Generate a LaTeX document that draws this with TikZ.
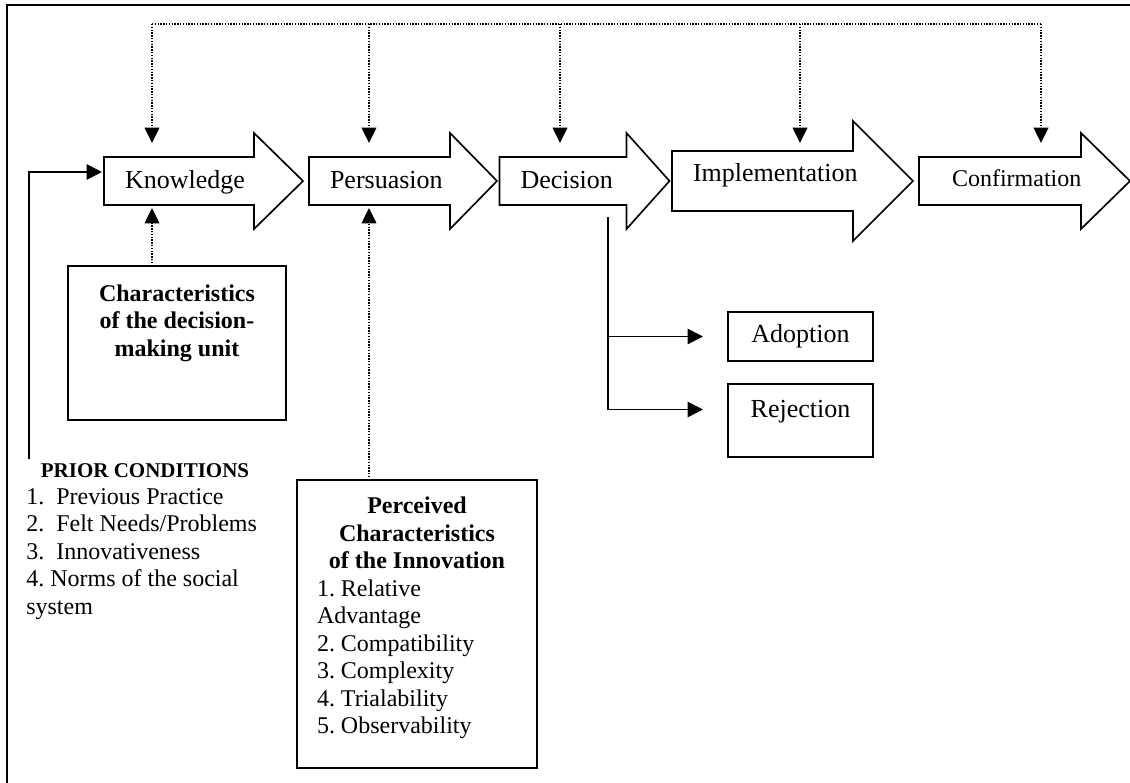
\documentclass[tikz,border=0pt]{standalone}
\usepackage{fontspec}
\setmainfont{Liberation Serif}
\usetikzlibrary{arrows.meta}
\frenchspacing
\newdimen\unitpx \unitpx=0.75pt
\newcommand{\stagefont}{\fontsize{19.5}{22}\selectfont}
\newcommand{\boxfont}{\fontsize{18}{20.6}\selectfont}
\newcommand{\stagehead}[4]{\draw[stageline] (#1.north west) -- (#1.north east) -- ++(0,-#2) -- ++(#4,#3) -- ++(-#4,#3) -- (#1.south east) -- (#1.south west) -- cycle;}
\tikzset{
  stage/.style={inner ysep=0pt, inner xsep=21\unitpx, outer sep=0pt, align=left, font=\stagefont,
    text height=14.5pt, text depth=4pt, minimum height=48\unitpx},
  stageline/.style={line width=1.25pt},
  infobox/.style={draw, line width=1.5pt, inner sep=0pt, outer sep=0pt, font=\boxfont},
  outcome/.style={draw, line width=1.25pt, inner sep=0pt, outer sep=0pt, font=\stagefont,
    minimum width=145\unitpx, minimum height=49\unitpx},
  flow/.style={line width=1.25pt, -{Triangle[length=11.5pt,width=11.5pt]}},
  feedback/.style={line width=1.1pt, densely dotted},
  fb/.style={feedback, -{Triangle[length=11.5pt,width=11pt]}}
}

\begin{document}
\begin{tikzpicture}[x=0.75pt,y=-0.75pt]
  \useasboundingbox (0,0) rectangle (1130,782);
  \draw[line width=1.6pt] (7,790) |- (1140,5);

  \node[stage, text width=108\unitpx] (know) at (179,181) {Knowledge};
  \node[stage, text width=99\unitpx] (pers) at (379.5,181) {Persuasion};
  \node[stage, text width=85\unitpx] (deci) at (563,181) {Decision};
  \node[stage, text width=139\unitpx, minimum height=60\unitpx, text depth=13.5pt] (impl) at (762.5,181) {Implementation};
  \node[stage, inner xsep=33\unitpx, text width=96\unitpx, font=\boxfont, text height=13pt, text depth=5.5pt] (conf) at (1000,181) {Confirmation};
  \stagehead{know}{24}{48}{49}
  \stagehead{pers}{24}{48}{47}
  \stagehead{deci}{24}{48}{43}
  \stagehead{impl}{30}{60}{60}
  \stagehead{conf}{24}{48}{49}

  \node[infobox] (dmu) at (177,343) {\parbox[c][154\unitpx][t]{218\unitpx}{\centering\bfseries\vspace*{14pt}Characteristics\\of the decision-\\making unit}};
  \node[infobox, inner xsep=20\unitpx] (perc) at (417,624) {\parbox[c][288\unitpx][t]{200\unitpx}{\vspace*{13pt}{\centering\bfseries Perceived\\Characteristics\\of the Innovation\par}1. Relative\\Advantage\\2. Compatibility\\3. Complexity\\4. Trialability\\5. Observability}};

  \node[outcome] (adopt) at (800.5,336.5) {Adoption};
  \node[outcome, minimum height=73\unitpx, text depth=17pt] (reject) at (800.5,420.5) {Rejection};

  \node[font=\fontsize{15.75}{18}\selectfont\bfseries, inner sep=0pt] (prior) at (145,471) {PRIOR CONDITIONS};
  \node[anchor=north west, align=left, inner sep=0pt, font=\boxfont] (priorlist) at (26,488) {1.~~Previous Practice\\2.~~Felt Needs/Problems\\3.~~Innovativeness\\4. Norms of the social\\system};

  \coordinate (pc) at (29,459);
  \draw[flow, shorten >=2\unitpx] (pc) |- ([yshift=9\unitpx]know.west);

  \coordinate (split) at (608,217);
  \draw[flow] (split) |- ([xshift=-25\unitpx]adopt.west);
  \draw[flow] (split) |- ([xshift=-25\unitpx,yshift=11\unitpx]reject.west);

  \draw[feedback] (152,24) -- (1041,24);
  \foreach \x in {152,369,560,800,1041}
    \draw[fb] (\x,24) -- (\x,143);
  \draw[fb, shorten >=3\unitpx] (152,0 |- dmu.north) -- (152,0 |- know.south);
  \draw[fb, shorten >=3\unitpx] (369,0 |- perc.north) -- (369,0 |- pers.south);
\end{tikzpicture}
\end{document}
